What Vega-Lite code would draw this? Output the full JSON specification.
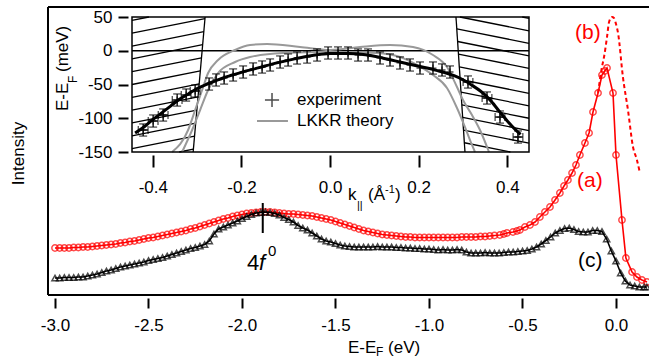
{
"$schema": "https://vega.github.io/schema/vega-lite/v6.json",
"width": 601, "height": 288,
"autosize": {"type": "none"},
"padding": {"left": 48, "top": 7, "right": 0, "bottom": 63},
"config": {"font": "Liberation Sans", "view": {"stroke": null}, "axis": {"grid": false, "labelColor": "#000", "tickColor": "#000", "titleColor": "#000", "titleFontWeight": "normal", "labelFont": "Liberation Sans", "titleFont": "Liberation Sans"}, "text": {"font": "Liberation Sans"}},
"datasets": {
"one": [{}],
"red": [{"E":-3.0,"I":47},{"E":-2.975,"I":47},{"E":-2.95,"I":47},{"E":-2.925,"I":47},{"E":-2.9,"I":47.5},{"E":-2.875,"I":47.5},{"E":-2.85,"I":48},{"E":-2.825,"I":48},{"E":-2.8,"I":48.5},{"E":-2.775,"I":49},{"E":-2.75,"I":49.5},{"E":-2.725,"I":50},{"E":-2.7,"I":50.5},{"E":-2.675,"I":51},{"E":-2.65,"I":52},{"E":-2.625,"I":52.5},{"E":-2.6,"I":53.5},{"E":-2.575,"I":54},{"E":-2.55,"I":55},{"E":-2.525,"I":56},{"E":-2.5,"I":57},{"E":-2.475,"I":57.5},{"E":-2.45,"I":58.5},{"E":-2.425,"I":59.5},{"E":-2.4,"I":60.5},{"E":-2.375,"I":61.5},{"E":-2.35,"I":62.5},{"E":-2.325,"I":63.5},{"E":-2.3,"I":64.5},{"E":-2.275,"I":66},{"E":-2.25,"I":67},{"E":-2.225,"I":68.5},{"E":-2.2,"I":70},{"E":-2.175,"I":71.5},{"E":-2.15,"I":73},{"E":-2.125,"I":74.5},{"E":-2.1,"I":76},{"E":-2.075,"I":77},{"E":-2.05,"I":78.5},{"E":-2.025,"I":79.5},{"E":-2.0,"I":80.5},{"E":-1.975,"I":81.5},{"E":-1.95,"I":82},{"E":-1.925,"I":82.5},{"E":-1.9,"I":83},{"E":-1.875,"I":83},{"E":-1.85,"I":83},{"E":-1.825,"I":82.5},{"E":-1.8,"I":82},{"E":-1.775,"I":81.5},{"E":-1.75,"I":81},{"E":-1.725,"I":81},{"E":-1.7,"I":80.5},{"E":-1.675,"I":80},{"E":-1.65,"I":79.5},{"E":-1.625,"I":79},{"E":-1.6,"I":78},{"E":-1.575,"I":77},{"E":-1.55,"I":76},{"E":-1.525,"I":75},{"E":-1.5,"I":73.5},{"E":-1.475,"I":72},{"E":-1.45,"I":70.5},{"E":-1.425,"I":69},{"E":-1.4,"I":67.5},{"E":-1.375,"I":66},{"E":-1.35,"I":64.5},{"E":-1.325,"I":63.5},{"E":-1.3,"I":62.5},{"E":-1.275,"I":61.5},{"E":-1.25,"I":60.5},{"E":-1.225,"I":60},{"E":-1.2,"I":59.5},{"E":-1.175,"I":59},{"E":-1.15,"I":58.5},{"E":-1.125,"I":58},{"E":-1.1,"I":58},{"E":-1.075,"I":57.5},{"E":-1.05,"I":57.5},{"E":-1.025,"I":57.5},{"E":-1.0,"I":57.5},{"E":-0.975,"I":57.5},{"E":-0.95,"I":57.5},{"E":-0.925,"I":57.5},{"E":-0.9,"I":57.5},{"E":-0.875,"I":57.5},{"E":-0.85,"I":57.5},{"E":-0.825,"I":58},{"E":-0.8,"I":58},{"E":-0.775,"I":58},{"E":-0.75,"I":58},{"E":-0.725,"I":58.5},{"E":-0.7,"I":58.5},{"E":-0.675,"I":59},{"E":-0.65,"I":59.5},{"E":-0.621,"I":60},{"E":-0.6,"I":61},{"E":-0.583,"I":62},{"E":-0.551,"I":63},{"E":-0.53,"I":64},{"E":-0.514,"I":65},{"E":-0.487,"I":68},{"E":-0.46,"I":70},{"E":-0.433,"I":73},{"E":-0.407,"I":78},{"E":-0.38,"I":83},{"E":-0.353,"I":88},{"E":-0.326,"I":95},{"E":-0.3,"I":102},{"E":-0.278,"I":109},{"E":-0.257,"I":115},{"E":-0.235,"I":122},{"E":-0.214,"I":130},{"E":-0.193,"I":140},{"E":-0.166,"I":152},{"E":-0.144,"I":162},{"E":-0.123,"I":183},{"E":-0.096,"I":202},{"E":-0.075,"I":220},{"E":-0.06,"I":224},{"E":-0.048,"I":227},{"E":-0.016,"I":202},{"E":0.0,"I":140},{"E":0.032,"I":75},{"E":0.053,"I":37},{"E":0.086,"I":23},{"E":0.112,"I":18},{"E":0.139,"I":15},{"E":0.166,"I":13}],
"black": [{"E":-3.0,"I":17},{"E":-2.975,"I":17},{"E":-2.95,"I":17.5},{"E":-2.925,"I":17.5},{"E":-2.9,"I":17.5},{"E":-2.875,"I":18},{"E":-2.85,"I":18},{"E":-2.825,"I":19},{"E":-2.8,"I":20},{"E":-2.775,"I":21},{"E":-2.75,"I":22.5},{"E":-2.725,"I":24},{"E":-2.7,"I":25},{"E":-2.675,"I":26.5},{"E":-2.65,"I":28},{"E":-2.625,"I":29},{"E":-2.6,"I":30},{"E":-2.575,"I":31},{"E":-2.55,"I":32},{"E":-2.525,"I":33},{"E":-2.5,"I":34.5},{"E":-2.475,"I":35.5},{"E":-2.45,"I":36.5},{"E":-2.425,"I":37.5},{"E":-2.4,"I":39},{"E":-2.375,"I":40.5},{"E":-2.35,"I":42},{"E":-2.325,"I":43.5},{"E":-2.3,"I":45},{"E":-2.275,"I":46.5},{"E":-2.25,"I":47.5},{"E":-2.225,"I":49},{"E":-2.2,"I":50.5},{"E":-2.175,"I":54},{"E":-2.15,"I":61},{"E":-2.125,"I":66},{"E":-2.1,"I":68},{"E":-2.075,"I":70},{"E":-2.05,"I":72},{"E":-2.025,"I":74},{"E":-2.0,"I":76.5},{"E":-1.975,"I":78.5},{"E":-1.95,"I":80.5},{"E":-1.925,"I":82},{"E":-1.9,"I":82.5},{"E":-1.875,"I":83},{"E":-1.85,"I":82.5},{"E":-1.825,"I":81.5},{"E":-1.8,"I":80},{"E":-1.775,"I":77.5},{"E":-1.75,"I":75.5},{"E":-1.725,"I":73},{"E":-1.7,"I":69.5},{"E":-1.675,"I":67},{"E":-1.65,"I":65},{"E":-1.625,"I":62},{"E":-1.6,"I":59},{"E":-1.575,"I":56},{"E":-1.55,"I":54},{"E":-1.525,"I":53},{"E":-1.5,"I":51.5},{"E":-1.475,"I":50},{"E":-1.45,"I":49},{"E":-1.425,"I":48.5},{"E":-1.4,"I":48},{"E":-1.375,"I":48},{"E":-1.35,"I":48},{"E":-1.325,"I":48},{"E":-1.3,"I":48},{"E":-1.275,"I":48.5},{"E":-1.25,"I":48},{"E":-1.225,"I":48},{"E":-1.2,"I":48},{"E":-1.175,"I":47.5},{"E":-1.15,"I":47.5},{"E":-1.125,"I":47},{"E":-1.1,"I":47},{"E":-1.075,"I":46.5},{"E":-1.05,"I":46.5},{"E":-1.025,"I":46},{"E":-1.0,"I":46},{"E":-0.975,"I":45.5},{"E":-0.95,"I":45},{"E":-0.925,"I":45.5},{"E":-0.9,"I":45},{"E":-0.875,"I":45},{"E":-0.85,"I":45.5},{"E":-0.825,"I":45},{"E":-0.8,"I":43},{"E":-0.775,"I":42},{"E":-0.75,"I":42},{"E":-0.725,"I":42},{"E":-0.7,"I":42.5},{"E":-0.675,"I":42},{"E":-0.65,"I":42},{"E":-0.625,"I":42},{"E":-0.6,"I":42.5},{"E":-0.575,"I":43},{"E":-0.55,"I":43},{"E":-0.525,"I":43.5},{"E":-0.5,"I":44},{"E":-0.475,"I":44.5},{"E":-0.45,"I":46},{"E":-0.425,"I":48},{"E":-0.4,"I":51},{"E":-0.375,"I":54.5},{"E":-0.35,"I":58},{"E":-0.325,"I":62},{"E":-0.3,"I":64.5},{"E":-0.275,"I":66.5},{"E":-0.25,"I":67},{"E":-0.225,"I":65.5},{"E":-0.2,"I":63.5},{"E":-0.175,"I":63},{"E":-0.15,"I":63},{"E":-0.125,"I":64.5},{"E":-0.1,"I":64.5},{"E":-0.075,"I":63.5},{"E":-0.05,"I":56},{"E":-0.025,"I":44},{"E":0.0,"I":34},{"E":0.025,"I":22},{"E":0.05,"I":14},{"E":0.075,"I":10},{"E":0.1,"I":9},{"E":0.125,"I":8},{"E":0.15,"I":8},{"E":0.165,"I":8}],
"dashed": [{"E":-0.096,"I":202},{"E":-0.075,"I":228},{"E":-0.064,"I":238},{"E":-0.048,"I":258},{"E":-0.037,"I":273},{"E":-0.021,"I":278},{"E":-0.011,"I":277},{"E":0.0,"I":271},{"E":0.011,"I":262},{"E":0.037,"I":218},{"E":0.064,"I":185},{"E":0.091,"I":148},{"E":0.112,"I":135},{"E":0.128,"I":122}],
"exp": [{"k":-0.4218,"E":-117.4,"lo":-126.4,"hi":-108.4,"klo":-0.4328,"khi":-0.4108},{"k":-0.3993,"E":-104.1,"lo":-113.1,"hi":-95.1,"klo":-0.4103,"khi":-0.3883},{"k":-0.3767,"E":-95.2,"lo":-104.2,"hi":-86.2,"klo":-0.3877,"khi":-0.3657},{"k":-0.3451,"E":-73.0,"lo":-82.0,"hi":-64.0,"klo":-0.3561,"khi":-0.3341},{"k":-0.3248,"E":-65.6,"lo":-74.6,"hi":-56.6,"klo":-0.3358,"khi":-0.3138},{"k":-0.3045,"E":-59.6,"lo":-68.6,"hi":-50.6,"klo":-0.3155,"khi":-0.2935},{"k":-0.273,"E":-49.3,"lo":-58.3,"hi":-40.3},{"k":-0.2572,"E":-43.3,"lo":-52.3,"hi":-34.3},{"k":-0.2391,"E":-40.4,"lo":-49.4,"hi":-31.4},{"k":-0.2188,"E":-35.9,"lo":-44.9,"hi":-26.9},{"k":-0.1962,"E":-31.5,"lo":-40.5,"hi":-22.5},{"k":-0.1737,"E":-27.0,"lo":-36.0,"hi":-18.0},{"k":-0.1534,"E":-24.1,"lo":-33.1,"hi":-15.1},{"k":-0.1353,"E":-21.1,"lo":-30.1,"hi":-12.1},{"k":-0.1128,"E":-16.7,"lo":-25.7,"hi":-7.7},{"k":-0.0947,"E":-13.7,"lo":-22.7,"hi":-4.7},{"k":-0.0744,"E":-10.7,"lo":-19.7,"hi":-1.7},{"k":-0.0518,"E":-9.3,"lo":-18.3,"hi":-0.3},{"k":-0.0293,"E":-6.3,"lo":-15.3,"hi":2.7},{"k":-0.0045,"E":-3.3,"lo":-12.3,"hi":5.7},{"k":0.018,"E":-3.3,"lo":-12.3,"hi":5.7},{"k":0.0406,"E":-3.3,"lo":-12.3,"hi":5.7},{"k":0.0632,"E":-6.3,"lo":-15.3,"hi":2.7},{"k":0.0857,"E":-6.3,"lo":-15.3,"hi":2.7},{"k":0.1128,"E":-10.7,"lo":-19.7,"hi":-1.7},{"k":0.1353,"E":-13.7,"lo":-22.7,"hi":-4.7},{"k":0.1579,"E":-18.1,"lo":-27.1,"hi":-9.1},{"k":0.1805,"E":-21.1,"lo":-30.1,"hi":-12.1},{"k":0.203,"E":-25.6,"lo":-34.6,"hi":-16.6},{"k":0.2323,"E":-25.6,"lo":-34.6,"hi":-16.6},{"k":0.2527,"E":-28.5,"lo":-37.5,"hi":-19.5},{"k":0.2707,"E":-31.5,"lo":-40.5,"hi":-22.5},{"k":0.3113,"E":-46.3,"lo":-55.3,"hi":-37.3,"klo":0.3003,"khi":0.3223},{"k":0.3542,"E":-70.0,"lo":-79.0,"hi":-61.0,"klo":0.3432,"khi":0.3652},{"k":0.3835,"E":-98.2,"lo":-107.2,"hi":-89.2,"klo":0.3725,"khi":0.3945},{"k":0.4241,"E":-127.8,"lo":-136.8,"hi":-118.8,"klo":0.4131,"khi":0.4351}],
"fit": [{"k":-0.44,"E":-122},{"k":-0.42,"E":-113},{"k":-0.4,"E":-102},{"k":-0.38,"E":-92},{"k":-0.36,"E":-82},{"k":-0.34,"E":-72},{"k":-0.32,"E":-64},{"k":-0.3,"E":-56},{"k":-0.28,"E":-50},{"k":-0.26,"E":-45},{"k":-0.24,"E":-40},{"k":-0.22,"E":-36},{"k":-0.2,"E":-32},{"k":-0.16,"E":-25},{"k":-0.12,"E":-18},{"k":-0.08,"E":-12},{"k":-0.04,"E":-7},{"k":0.0,"E":-4},{"k":0.04,"E":-4},{"k":0.08,"E":-6},{"k":0.12,"E":-11},{"k":0.16,"E":-17},{"k":0.2,"E":-23},{"k":0.24,"E":-29},{"k":0.28,"E":-37},{"k":0.3,"E":-43},{"k":0.32,"E":-51},{"k":0.34,"E":-60},{"k":0.36,"E":-72},{"k":0.38,"E":-88},{"k":0.4,"E":-104},{"k":0.42,"E":-118},{"k":0.43,"E":-124}],
"theory": [{"c":"A","k":-0.3564,"E":-150},{"c":"A","k":-0.3203,"E":-117.4},{"c":"A","k":-0.3045,"E":-87.8},{"c":"A","k":-0.2887,"E":-58.1},{"c":"A","k":-0.2752,"E":-33.0},{"c":"A","k":-0.2527,"E":-13.7},{"c":"A","k":-0.2143,"E":1.1},{"c":"A","k":-0.1805,"E":8.5},{"c":"A","k":-0.1421,"E":10.0},{"c":"A","k":-0.0677,"E":5.6},{"c":"A","k":0.0,"E":1.1},{"c":"A","k":0.0677,"E":5.6},{"c":"A","k":0.1353,"E":8.5},{"c":"A","k":0.1872,"E":5.6},{"c":"A","k":0.2323,"E":-6.3},{"c":"A","k":0.2639,"E":-24.1},{"c":"A","k":0.2865,"E":-53.7},{"c":"A","k":0.3,"E":-73.0},{"c":"A","k":0.3203,"E":-95.2},{"c":"A","k":0.3384,"E":-117.4},{"c":"A","k":0.3587,"E":-150},{"c":"B","k":-0.3339,"E":-150},{"c":"B","k":-0.3113,"E":-117.4},{"c":"B","k":-0.2933,"E":-87.8},{"c":"B","k":-0.2752,"E":-58.1},{"c":"B","k":-0.2527,"E":-33.0},{"c":"B","k":-0.2143,"E":-16.7},{"c":"B","k":-0.1805,"E":-9.3},{"c":"B","k":-0.106,"E":-3.3},{"c":"B","k":0.0,"E":-1.9},{"c":"B","k":0.106,"E":-3.3},{"c":"B","k":0.1579,"E":-9.3},{"c":"B","k":0.1963,"E":-21.1},{"c":"B","k":0.2323,"E":-35.9},{"c":"B","k":0.2639,"E":-55.2},{"c":"B","k":0.2865,"E":-84.8},{"c":"B","k":0.3045,"E":-113.0},{"c":"B","k":0.3203,"E":-139.6},{"c":"B","k":0.3271,"E":-150}],
"hatch": [{"k1":-0.447,"E1":45,"k2":-0.4089,"E2":50},{"k1":-0.447,"E1":26,"k2":-0.2823,"E2":47.6},{"k1":-0.447,"E1":7,"k2":-0.2848,"E2":28.3},{"k1":-0.447,"E1":-12,"k2":-0.2874,"E2":9.0},{"k1":-0.447,"E1":-31,"k2":-0.29,"E2":-10.4},{"k1":-0.447,"E1":-50,"k2":-0.2927,"E2":-29.7},{"k1":-0.447,"E1":-69,"k2":-0.2953,"E2":-49.1},{"k1":-0.447,"E1":-88,"k2":-0.2979,"E2":-68.4},{"k1":-0.447,"E1":-107,"k2":-0.3005,"E2":-87.8},{"k1":-0.447,"E1":-126,"k2":-0.3031,"E2":-107.1},{"k1":-0.447,"E1":-145,"k2":-0.3057,"E2":-126.4},{"k1":-0.3404,"E1":-150,"k2":-0.3083,"E2":-145.8},{"k1":0.4338,"E1":50,"k2":0.449,"E2":48},{"k1":0.293,"E1":50,"k2":0.449,"E2":29.5},{"k1":0.2862,"E1":32.4,"k2":0.449,"E2":11},{"k1":0.2879,"E1":13.7,"k2":0.449,"E2":-7.5},{"k1":0.2898,"E1":-5.1,"k2":0.449,"E2":-26},{"k1":0.2917,"E1":-23.9,"k2":0.449,"E2":-44.5},{"k1":0.2936,"E1":-42.6,"k2":0.449,"E2":-63},{"k1":0.2955,"E1":-61.3,"k2":0.449,"E2":-81.5},{"k1":0.2974,"E1":-80.1,"k2":0.449,"E2":-100},{"k1":0.2993,"E1":-98.8,"k2":0.449,"E2":-118.5},{"k1":0.3012,"E1":-117.6,"k2":0.449,"E2":-137},{"k1":0.3031,"E1":-136.3,"k2":0.407,"E2":-150},{"k1":-0.282,"E1":50,"k2":-0.309,"E2":-150},{"k1":0.2842,"E1":50,"k2":0.3045,"E2":-150}]
},
"resolve": {"scale": {"x": "independent", "y": "independent"}, "axis": {"x": "independent", "y": "independent"}},
"layer": [
 {"data": {"name": "red"}, "mark": {"type": "line", "color": "#ff0000", "strokeWidth": 1.6},
  "encoding": {
   "x": {"field": "E", "type": "quantitative", "scale": {"domain": [-3.0374, 0.1765], "nice": false, "zero": false},
     "axis": {"orient": "bottom", "title": null, "values": [-3, -2.5, -2, -1.5, -1, -0.5, 0], "labelExpr": "(datum.value < 0 ? '-' : '') + format(abs(datum.value), '.1f')", "tickSize": 10, "tickWidth": 2, "domain": false, "offset": 3, "labelFontSize": 17, "labelPadding": 9, "labelFlush": false, "labelOverlap": false}},
   "y": {"field": "I", "type": "quantitative", "scale": {"domain": [0, 288], "nice": false, "zero": false},
     "axis": {"orient": "left", "title": "Intensity", "labels": false, "ticks": false, "domain": false, "titleFontSize": 17, "titleX": -30, "titleY": 146, "titleAngle": 270, "titleAlign": "center", "titleBaseline": "middle"}}}},
 {"data": {"name": "one"}, "mark": {"type": "rule", "color": "#000", "strokeWidth": 2},
  "encoding": {"x": {"datum": -3.0374, "scale": {"domain": [-3.0374, 0.1765], "nice": false, "zero": false}, "axis": null}, "x2": {"datum": 0.1765}, "y": {"datum": 288, "scale": {"domain": [0, 288], "nice": false, "zero": false}, "axis": null}}},
 {"data": {"name": "one"}, "mark": {"type": "rule", "color": "#000", "strokeWidth": 2},
  "encoding": {"x": {"datum": -3.0374, "scale": {"domain": [-3.0374, 0.1765], "nice": false, "zero": false}, "axis": null}, "x2": {"datum": 0.1765}, "y": {"datum": 0, "scale": {"domain": [0, 288], "nice": false, "zero": false}, "axis": null}}},
 {"data": {"name": "one"}, "mark": {"type": "rule", "color": "#000", "strokeWidth": 2},
  "encoding": {"x": {"datum": -3.0374, "scale": {"domain": [-3.0374, 0.1765], "nice": false, "zero": false}, "axis": null}, "y": {"datum": 0, "scale": {"domain": [0, 288], "nice": false, "zero": false}, "axis": null}, "y2": {"datum": 288}}},
 {"data": {"name": "hatch"}, "mark": {"type": "rule", "color": "#000", "strokeWidth": 1.3},
  "encoding": {
   "x": {"field": "k1", "type": "quantitative", "scale": {"domain": [-0.447, 0.449], "range": [84, 481], "nice": false, "zero": false},
     "axis": {"orient": "bottom", "offset": -140, "title": null, "values": [-0.4, -0.2, 0, 0.2, 0.4], "labelExpr": "(datum.value < 0 ? '-' : '') + format(abs(datum.value), '.1f')", "tickSize": 12, "tickWidth": 2, "domain": false, "labelFontSize": 17, "labelPadding": 12, "labelFlush": false, "labelOverlap": false}},
   "y": {"field": "E1", "type": "quantitative", "scale": {"domain": [-150, 50], "range": [145, 10], "nice": false, "zero": false},
     "axis": {"orient": "left", "offset": -80, "title": null, "values": [-150, -100, -50, 0, 50], "labelExpr": "(datum.value < 0 ? '-' : '') + format(abs(datum.value), 'd')", "tickSize": 10, "tickWidth": 2, "domain": false, "labelFontSize": 17, "labelPadding": 6, "labelOverlap": false}},
   "x2": {"field": "k2"}, "y2": {"field": "E2"}}},
 {"data": {"name": "red"}, "mark": {"type": "point", "shape": "circle", "filled": false, "color": "#ff0000", "size": 40, "strokeWidth": 1.5},
  "encoding": {"x": {"field": "E", "type": "quantitative", "scale": {"domain": [-3.0374, 0.1765], "nice": false, "zero": false}, "axis": null}, "y": {"field": "I", "type": "quantitative", "scale": {"domain": [0, 288], "nice": false, "zero": false}, "axis": null}}},
 {"data": {"name": "black"}, "mark": {"type": "line", "color": "#000", "strokeWidth": 1.6},
  "encoding": {"x": {"field": "E", "type": "quantitative", "scale": {"domain": [-3.0374, 0.1765], "nice": false, "zero": false}, "axis": null}, "y": {"field": "I", "type": "quantitative", "scale": {"domain": [0, 288], "nice": false, "zero": false}, "axis": null}}},
 {"data": {"name": "black"}, "mark": {"type": "point", "shape": "triangle-up", "filled": false, "color": "#000", "size": 38, "strokeWidth": 1.5},
  "encoding": {"x": {"field": "E", "type": "quantitative", "scale": {"domain": [-3.0374, 0.1765], "nice": false, "zero": false}, "axis": null}, "y": {"field": "I", "type": "quantitative", "scale": {"domain": [0, 288], "nice": false, "zero": false}, "axis": null}}},
 {"data": {"name": "dashed"}, "mark": {"type": "line", "color": "#ff0000", "strokeWidth": 2, "strokeDash": [4, 3], "interpolate": "monotone"},
  "encoding": {"x": {"field": "E", "type": "quantitative", "scale": {"domain": [-3.0374, 0.1765], "nice": false, "zero": false}, "axis": null}, "y": {"field": "I", "type": "quantitative", "scale": {"domain": [0, 288], "nice": false, "zero": false}, "axis": null}}},
 {"data": {"name": "one"}, "mark": {"type": "rule", "color": "#000", "strokeWidth": 2},
  "encoding": {"x": {"datum": -1.889, "scale": {"domain": [-3.0374, 0.1765], "nice": false, "zero": false}, "axis": null}, "y": {"datum": 62, "scale": {"domain": [0, 288], "nice": false, "zero": false}, "axis": null}, "y2": {"datum": 92}}},
 {"data": {"name": "one"}, "mark": {"type": "text", "text": "4", "fontSize": 22, "align": "left", "baseline": "alphabetic", "color": "#000"},
  "encoding": {"x": {"datum": -1.973, "scale": {"domain": [-3.0374, 0.1765], "nice": false, "zero": false}, "axis": null}, "y": {"datum": 25, "scale": {"domain": [0, 288], "nice": false, "zero": false}, "axis": null}}},
 {"data": {"name": "one"}, "mark": {"type": "text", "text": "f", "fontSize": 22, "fontStyle": "italic", "align": "left", "baseline": "alphabetic", "color": "#000"},
  "encoding": {"x": {"datum": -1.909, "scale": {"domain": [-3.0374, 0.1765], "nice": false, "zero": false}, "axis": null}, "y": {"datum": 25, "scale": {"domain": [0, 288], "nice": false, "zero": false}, "axis": null}}},
 {"data": {"name": "one"}, "mark": {"type": "text", "text": "0", "fontSize": 15, "align": "left", "baseline": "alphabetic", "color": "#000"},
  "encoding": {"x": {"datum": -1.861, "scale": {"domain": [-3.0374, 0.1765], "nice": false, "zero": false}, "axis": null}, "y": {"datum": 39, "scale": {"domain": [0, 288], "nice": false, "zero": false}, "axis": null}}},
 {"data": {"name": "one"}, "mark": {"type": "text", "text": "(a)", "fontSize": 21, "align": "left", "baseline": "middle", "color": "#ff0000"},
  "encoding": {"x": {"datum": -0.2086, "scale": {"domain": [-3.0374, 0.1765], "nice": false, "zero": false}, "axis": null}, "y": {"datum": 114, "scale": {"domain": [0, 288], "nice": false, "zero": false}, "axis": null}}},
 {"data": {"name": "one"}, "mark": {"type": "text", "text": "(b)", "fontSize": 21, "align": "left", "baseline": "middle", "color": "#ff0000"},
  "encoding": {"x": {"datum": -0.219, "scale": {"domain": [-3.0374, 0.1765], "nice": false, "zero": false}, "axis": null}, "y": {"datum": 262.5, "scale": {"domain": [0, 288], "nice": false, "zero": false}, "axis": null}}},
 {"data": {"name": "one"}, "mark": {"type": "text", "text": "(c)", "fontSize": 21, "align": "left", "baseline": "middle", "color": "#000"},
  "encoding": {"x": {"datum": -0.203, "scale": {"domain": [-3.0374, 0.1765], "nice": false, "zero": false}, "axis": null}, "y": {"datum": 34, "scale": {"domain": [0, 288], "nice": false, "zero": false}, "axis": null}}},
 {"data": {"name": "one"}, "mark": {"type": "text", "text": "E-E", "fontSize": 17, "align": "left", "baseline": "alphabetic", "color": "#000"},
  "encoding": {"x": {"datum": -1.433, "scale": {"domain": [-3.0374, 0.1765], "nice": false, "zero": false}, "axis": null}, "y": {"datum": -58, "scale": {"domain": [0, 288], "nice": false, "zero": false}, "axis": null}}},
 {"data": {"name": "one"}, "mark": {"type": "text", "text": "F", "fontSize": 12, "align": "left", "baseline": "alphabetic", "color": "#000"},
  "encoding": {"x": {"datum": -1.283, "scale": {"domain": [-3.0374, 0.1765], "nice": false, "zero": false}, "axis": null}, "y": {"datum": -61, "scale": {"domain": [0, 288], "nice": false, "zero": false}, "axis": null}}},
 {"data": {"name": "one"}, "mark": {"type": "text", "text": "(eV)", "fontSize": 17, "align": "left", "baseline": "alphabetic", "color": "#000"},
  "encoding": {"x": {"datum": -1.219, "scale": {"domain": [-3.0374, 0.1765], "nice": false, "zero": false}, "axis": null}, "y": {"datum": -58, "scale": {"domain": [0, 288], "nice": false, "zero": false}, "axis": null}}},
 {"data": {"name": "one"}, "mark": {"type": "rule", "color": "#000", "strokeWidth": 1.5},
  "encoding": {"x": {"datum": -0.447, "scale": {"domain": [-0.447, 0.449], "range": [84, 481], "nice": false, "zero": false}, "axis": null}, "x2": {"datum": 0.449}, "y": {"datum": 0, "scale": {"domain": [-150, 50], "range": [145, 10], "nice": false, "zero": false}, "axis": null}}},
 {"data": {"name": "theory"}, "mark": {"type": "line", "color": "#999999", "strokeWidth": 2, "interpolate": "monotone"},
  "encoding": {"x": {"field": "k", "type": "quantitative", "scale": {"domain": [-0.447, 0.449], "range": [84, 481], "nice": false, "zero": false}, "axis": null}, "y": {"field": "E", "type": "quantitative", "scale": {"domain": [-150, 50], "range": [145, 10], "nice": false, "zero": false}, "axis": null}, "detail": {"field": "c"}}},
 {"data": {"name": "fit"}, "mark": {"type": "line", "color": "#000", "strokeWidth": 3, "interpolate": "monotone"},
  "encoding": {"x": {"field": "k", "type": "quantitative", "scale": {"domain": [-0.447, 0.449], "range": [84, 481], "nice": false, "zero": false}, "axis": null}, "y": {"field": "E", "type": "quantitative", "scale": {"domain": [-150, 50], "range": [145, 10], "nice": false, "zero": false}, "axis": null}}},
 {"data": {"name": "exp"}, "mark": {"type": "rule", "color": "#000", "strokeWidth": 1.3},
  "encoding": {"x": {"field": "k", "type": "quantitative", "scale": {"domain": [-0.447, 0.449], "range": [84, 481], "nice": false, "zero": false}, "axis": null}, "y": {"field": "lo", "type": "quantitative", "scale": {"domain": [-150, 50], "range": [145, 10], "nice": false, "zero": false}, "axis": null}, "y2": {"field": "hi"}}},
 {"data": {"name": "exp"}, "mark": {"type": "tick", "orient": "horizontal", "color": "#000", "size": 8, "thickness": 1.3},
  "encoding": {"x": {"field": "k", "type": "quantitative", "scale": {"domain": [-0.447, 0.449], "range": [84, 481], "nice": false, "zero": false}, "axis": null}, "y": {"field": "lo", "type": "quantitative", "scale": {"domain": [-150, 50], "range": [145, 10], "nice": false, "zero": false}, "axis": null}}},
 {"data": {"name": "exp"}, "mark": {"type": "tick", "orient": "horizontal", "color": "#000", "size": 8, "thickness": 1.3},
  "encoding": {"x": {"field": "k", "type": "quantitative", "scale": {"domain": [-0.447, 0.449], "range": [84, 481], "nice": false, "zero": false}, "axis": null}, "y": {"field": "hi", "type": "quantitative", "scale": {"domain": [-150, 50], "range": [145, 10], "nice": false, "zero": false}, "axis": null}}},
 {"data": {"name": "exp"}, "mark": {"type": "rule", "color": "#000", "strokeWidth": 1.3},
  "encoding": {"x": {"field": "klo", "type": "quantitative", "scale": {"domain": [-0.447, 0.449], "range": [84, 481], "nice": false, "zero": false}, "axis": null}, "x2": {"field": "khi"}, "y": {"field": "E", "type": "quantitative", "scale": {"domain": [-150, 50], "range": [145, 10], "nice": false, "zero": false}, "axis": null}}},
 {"data": {"name": "exp"}, "mark": {"type": "tick", "orient": "vertical", "color": "#000", "size": 8, "thickness": 1.3},
  "encoding": {"x": {"field": "klo", "type": "quantitative", "scale": {"domain": [-0.447, 0.449], "range": [84, 481], "nice": false, "zero": false}, "axis": null}, "y": {"field": "E", "type": "quantitative", "scale": {"domain": [-150, 50], "range": [145, 10], "nice": false, "zero": false}, "axis": null}}},
 {"data": {"name": "exp"}, "mark": {"type": "tick", "orient": "vertical", "color": "#000", "size": 8, "thickness": 1.3},
  "encoding": {"x": {"field": "khi", "type": "quantitative", "scale": {"domain": [-0.447, 0.449], "range": [84, 481], "nice": false, "zero": false}, "axis": null}, "y": {"field": "E", "type": "quantitative", "scale": {"domain": [-150, 50], "range": [145, 10], "nice": false, "zero": false}, "axis": null}}},
 {"data": {"name": "exp"}, "mark": {"type": "point", "shape": "M-1,0H1M0,-1V1", "filled": false, "color": "#000", "size": 49, "strokeWidth": 1.3},
  "encoding": {"x": {"field": "k", "type": "quantitative", "scale": {"domain": [-0.447, 0.449], "range": [84, 481], "nice": false, "zero": false}, "axis": null}, "y": {"field": "E", "type": "quantitative", "scale": {"domain": [-150, 50], "range": [145, 10], "nice": false, "zero": false}, "axis": null}}},
 {"data": {"name": "one"}, "mark": {"type": "rect", "filled": false, "stroke": "#000", "strokeWidth": 1.5},
  "encoding": {"x": {"datum": -0.447, "scale": {"domain": [-0.447, 0.449], "range": [84, 481], "nice": false, "zero": false}, "axis": null}, "x2": {"datum": 0.449}, "y": {"datum": -150, "scale": {"domain": [-150, 50], "range": [145, 10], "nice": false, "zero": false}, "axis": null}, "y2": {"datum": 50}}},
 {"data": {"name": "one"}, "mark": {"type": "point", "shape": "M-1,0H1M0,-1V1", "filled": false, "color": "#000", "size": 200, "strokeWidth": 1.5},
  "encoding": {"x": {"datum": -0.131, "scale": {"domain": [-0.447, 0.449], "range": [84, 481], "nice": false, "zero": false}, "axis": null}, "y": {"datum": -73, "scale": {"domain": [-150, 50], "range": [145, 10], "nice": false, "zero": false}, "axis": null}}},
 {"data": {"name": "one"}, "mark": {"type": "text", "text": "experiment", "fontSize": 17, "align": "left", "baseline": "middle", "color": "#000"},
  "encoding": {"x": {"datum": -0.0746, "scale": {"domain": [-0.447, 0.449], "range": [84, 481], "nice": false, "zero": false}, "axis": null}, "y": {"datum": -73, "scale": {"domain": [-150, 50], "range": [145, 10], "nice": false, "zero": false}, "axis": null}}},
 {"data": {"name": "one"}, "mark": {"type": "rule", "color": "#999999", "strokeWidth": 2},
  "encoding": {"x": {"datum": -0.1649, "scale": {"domain": [-0.447, 0.449], "range": [84, 481], "nice": false, "zero": false}, "axis": null}, "x2": {"datum": -0.095}, "y": {"datum": -104.1, "scale": {"domain": [-150, 50], "range": [145, 10], "nice": false, "zero": false}, "axis": null}}},
 {"data": {"name": "one"}, "mark": {"type": "text", "text": "LKKR theory", "fontSize": 17, "align": "left", "baseline": "middle", "color": "#000"},
  "encoding": {"x": {"datum": -0.0746, "scale": {"domain": [-0.447, 0.449], "range": [84, 481], "nice": false, "zero": false}, "axis": null}, "y": {"datum": -104.1, "scale": {"domain": [-150, 50], "range": [145, 10], "nice": false, "zero": false}, "axis": null}}},
 {"data": {"name": "one"}, "mark": {"type": "text", "text": "k", "fontSize": 17, "align": "left", "baseline": "alphabetic", "color": "#000"},
  "encoding": {"x": {"datum": 0.0405, "scale": {"domain": [-0.447, 0.449], "range": [84, 481], "nice": false, "zero": false}, "axis": null}, "y": {"datum": -221.1, "scale": {"domain": [-150, 50], "range": [145, 10], "nice": false, "zero": false}, "axis": null}}},
 {"data": {"name": "one"}, "mark": {"type": "text", "text": "||", "fontSize": 11, "align": "left", "baseline": "alphabetic", "color": "#000"},
  "encoding": {"x": {"datum": 0.0608, "scale": {"domain": [-0.447, 0.449], "range": [84, 481], "nice": false, "zero": false}, "axis": null}, "y": {"datum": -234, "scale": {"domain": [-150, 50], "range": [145, 10], "nice": false, "zero": false}, "axis": null}}},
 {"data": {"name": "one"}, "mark": {"type": "text", "text": "(Å", "fontSize": 17, "align": "left", "baseline": "alphabetic", "color": "#000"},
  "encoding": {"x": {"datum": 0.0858, "scale": {"domain": [-0.447, 0.449], "range": [84, 481], "nice": false, "zero": false}, "axis": null}, "y": {"datum": -221.1, "scale": {"domain": [-150, 50], "range": [145, 10], "nice": false, "zero": false}, "axis": null}}},
 {"data": {"name": "one"}, "mark": {"type": "text", "text": "-1", "fontSize": 11, "align": "left", "baseline": "alphabetic", "color": "#000"},
  "encoding": {"x": {"datum": 0.1241, "scale": {"domain": [-0.447, 0.449], "range": [84, 481], "nice": false, "zero": false}, "axis": null}, "y": {"datum": -210.7, "scale": {"domain": [-150, 50], "range": [145, 10], "nice": false, "zero": false}, "axis": null}}},
 {"data": {"name": "one"}, "mark": {"type": "text", "text": ")", "fontSize": 17, "align": "left", "baseline": "alphabetic", "color": "#000"},
  "encoding": {"x": {"datum": 0.1467, "scale": {"domain": [-0.447, 0.449], "range": [84, 481], "nice": false, "zero": false}, "axis": null}, "y": {"datum": -221.1, "scale": {"domain": [-150, 50], "range": [145, 10], "nice": false, "zero": false}, "axis": null}}},
 {"data": {"name": "one"}, "mark": {"type": "text", "text": "E-E", "fontSize": 17, "angle": 270, "align": "left", "baseline": "alphabetic", "color": "#000"},
  "encoding": {"x": {"datum": -0.5914, "scale": {"domain": [-0.447, 0.449], "range": [84, 481], "nice": false, "zero": false}, "axis": null}, "y": {"datum": -89.3, "scale": {"domain": [-150, 50], "range": [145, 10], "nice": false, "zero": false}, "axis": null}}},
 {"data": {"name": "one"}, "mark": {"type": "text", "text": "F", "fontSize": 12, "angle": 270, "align": "left", "baseline": "alphabetic", "color": "#000"},
  "encoding": {"x": {"datum": -0.5711, "scale": {"domain": [-0.447, 0.449], "range": [84, 481], "nice": false, "zero": false}, "axis": null}, "y": {"datum": -47.8, "scale": {"domain": [-150, 50], "range": [145, 10], "nice": false, "zero": false}, "axis": null}}},
 {"data": {"name": "one"}, "mark": {"type": "text", "text": "(meV)", "fontSize": 17, "angle": 270, "align": "left", "baseline": "alphabetic", "color": "#000"},
  "encoding": {"x": {"datum": -0.5914, "scale": {"domain": [-0.447, 0.449], "range": [84, 481], "nice": false, "zero": false}, "axis": null}, "y": {"datum": -31.5, "scale": {"domain": [-150, 50], "range": [145, 10], "nice": false, "zero": false}, "axis": null}}}
]
}
